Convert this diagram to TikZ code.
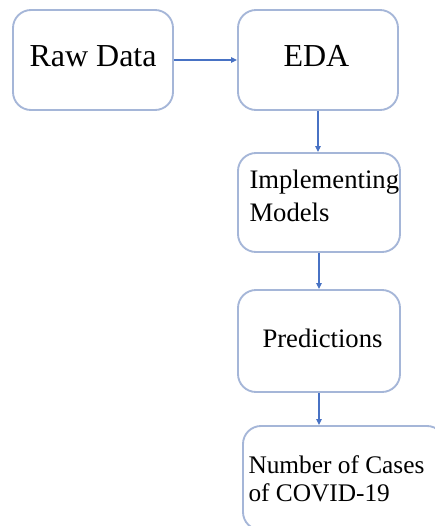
\documentclass[tikz,border=0pt]{standalone}
\usepackage{fontspec}
\setmainfont{Liberation Serif}
\usetikzlibrary{arrows.meta}

\definecolor{boxline}{RGB}{165,182,216}
\definecolor{arrowline}{RGB}{72,114,196}

\tikzset{every picture/.style={line width=0.75pt}}
\tikzset{
  stagebox/.style={draw=boxline, line width=1.4pt, rounded corners=13.5pt, rectangle, inner sep=0pt},
  flowarrow/.style={draw=arrowline, line width=0.9pt, -{Triangle[length=4.5pt,width=4pt]}},
  bigtext/.style={font=\fontsize{24}{28}\selectfont, inner sep=0pt, anchor=base west},
  smalltext/.style={font=\fontsize{20}{24}\selectfont, inner sep=0pt, anchor=base west}
}

\begin{document}
\begin{tikzpicture}[x=0.75pt,y=0.75pt,yscale=-1,xscale=1]
	\clip (0,0) rectangle (435,526);
	\fill[white] (0,0) rectangle (435,526);

	%Boxes
	\node[stagebox, minimum width=120pt, minimum height=75pt] (raw) at (93,60) {};
	\node[stagebox, minimum width=120pt, minimum height=75pt] (eda) at (318,60) {};
	\node[stagebox, minimum width=121.5pt, minimum height=74.25pt] (impl) at (319,202.5) {};
	\node[stagebox, minimum width=121.5pt, minimum height=76.5pt] (pred) at (319,341) {};
	\node[stagebox, minimum width=151.5pt, minimum height=78pt] (cases) at (344,478) {};

	% Text Node
	\node[bigtext] (rawtext) at (29,66) {Raw Data};
	% Text Node
	\node[bigtext] (edatext) at (283,66) {EDA};
	% Text Node
	\node[smalltext] (impltexta) at (249,188) {Implementing};
	\node[smalltext] (impltextb) at (249,221) {Models};
	% Text Node
	\node[smalltext] (predtext) at (262,347) {Predictions};
	% Text Node
	\node[smalltext, font=\fontsize{19}{23}\selectfont] (casestexta) at (248,473) {Number of Cases};
	\node[smalltext, font=\fontsize{19}{23}\selectfont] (casestextb) at (248,501) {of COVID-19};

	%Arrows
	\draw[flowarrow] (raw.east) -- (eda.west);
	\draw[flowarrow] (eda.south) -- (eda.south |- impl.north);
	\draw[flowarrow] (impl.south) -- (impl.south |- pred.north);
	\draw[flowarrow] (pred.south) -- (pred.south |- cases.north);

\end{tikzpicture}
\end{document}
